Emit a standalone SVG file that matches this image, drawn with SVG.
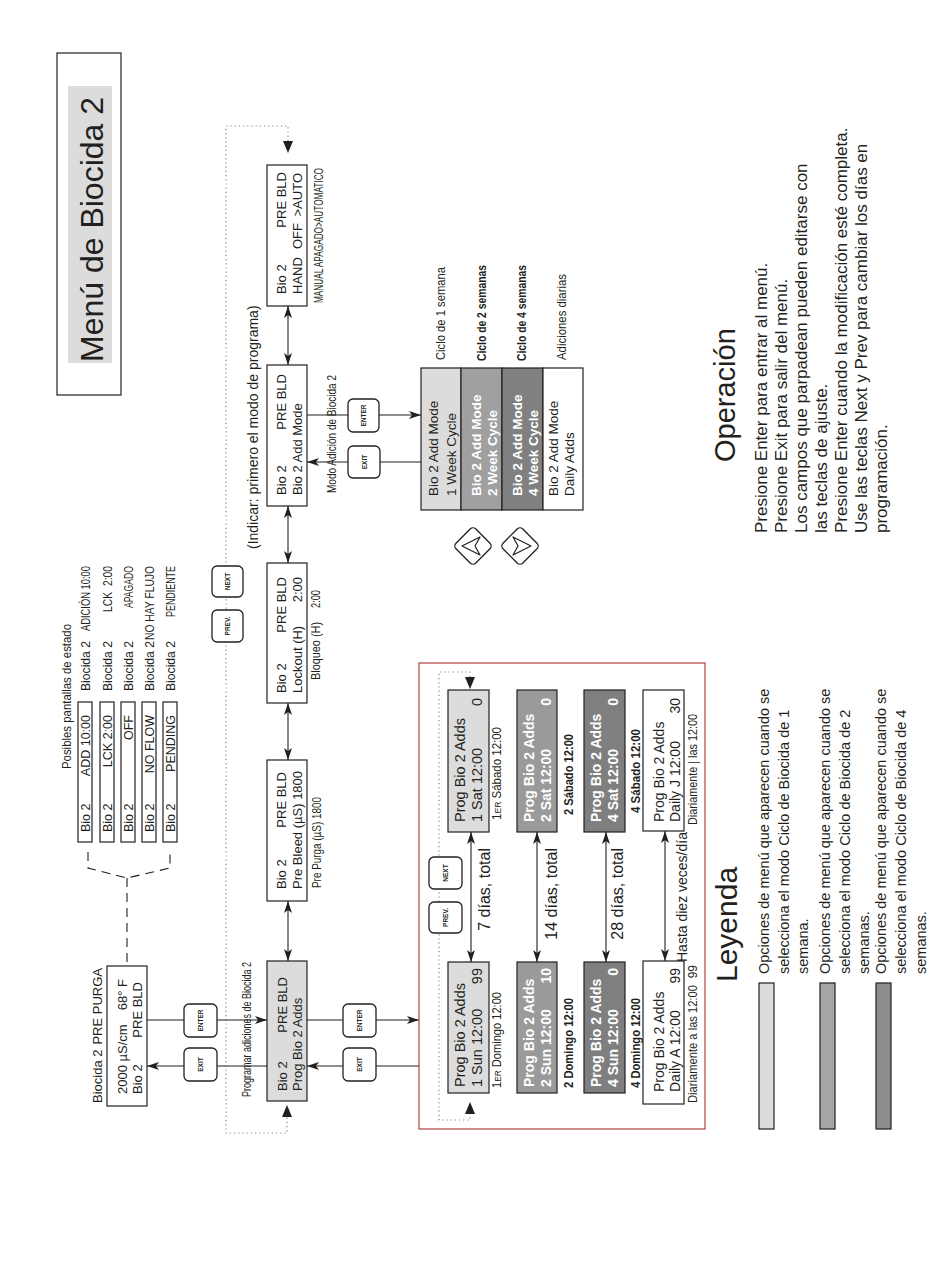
<svg xmlns="http://www.w3.org/2000/svg" width="950" height="1276" viewBox="0 0 950 1276">
<defs>
<marker id="ah" viewBox="0 0 12 8" refX="12" refY="4" markerWidth="12" markerHeight="8" markerUnits="userSpaceOnUse" orient="auto-start-reverse"><path d="M0,0 L12,4 L0,8 L3,4 z" fill="#231f20"/></marker>
</defs>
<style>
text{font-family:"Liberation Sans",Arial,Helvetica,sans-serif;fill:#231f20}
.box{fill:#fff;stroke:#231f20;stroke-width:1.2}
.ln{stroke:#231f20;stroke-width:1.1;fill:none}
.dash{stroke:#231f20;stroke-width:1.1;fill:none;stroke-dasharray:9 6}
.dot{stroke:#8a8a8a;stroke-width:1.2;fill:none;stroke-dasharray:1.2 3}
.btn{fill:#fff;stroke:#231f20;stroke-width:1.3}
.bt{font-size:6.5px;font-weight:bold;text-anchor:middle}
.e{text-anchor:end}
.b{font-weight:bold}
.w{fill:#fff}
.s12{font-size:12.5px}
.s13{font-size:13px}
.s14{font-size:14.5px}
.cap{font-size:12px}
.leg{font-size:14.5px}
.op{font-size:17px}
</style>

<g id="title">
<rect x="57" y="53" width="64" height="342" fill="none" stroke="#231f20" stroke-width="1.2"/>
<rect x="68" y="86" width="44" height="277" fill="#dcdcdc"/>
<text transform="translate(103,362) rotate(-90)" font-size="32">Menú de Biocida 2</text>
</g>

<g id="status-screens">
<text transform="translate(71,769) rotate(-90)" font-size="13" textLength="145" lengthAdjust="spacingAndGlyphs">Posibles pantallas de estado</text>
<rect class="box" x="78" y="702" width="14" height="140"/>
<rect class="box" x="100" y="702" width="14" height="140"/>
<rect class="box" x="121" y="702" width="14" height="140"/>
<rect class="box" x="142" y="702" width="14" height="140"/>
<rect class="box" x="163" y="702" width="14" height="140"/>
<text transform="translate(89.5,832) rotate(-90)" class="s12">Bio 2</text>
<text transform="translate(89.5,715) rotate(-90)" class="s12 e">ADD 10:00</text>
<text transform="translate(111.5,832) rotate(-90)" class="s12">Bio 2</text>
<text transform="translate(111.5,715) rotate(-90)" class="s12 e">LCK   2:00</text>
<text transform="translate(132.5,832) rotate(-90)" class="s12">Bio 2</text>
<text transform="translate(132.5,715) rotate(-90)" class="s12 e">OFF</text>
<text transform="translate(153.5,832) rotate(-90)" class="s12">Bio 2</text>
<text transform="translate(153.5,715) rotate(-90)" class="s12 e">NO FLOW</text>
<text transform="translate(174.5,832) rotate(-90)" class="s12">Bio 2</text>
<text transform="translate(174.5,715) rotate(-90)" class="s12 e">PENDING</text>
<text transform="translate(89.5,691) rotate(-90)" class="s12" textLength="50" lengthAdjust="spacingAndGlyphs">Biocida 2</text>
<text transform="translate(89.5,631) rotate(-90)" class="cap" textLength="65" lengthAdjust="spacingAndGlyphs">ADICIÓN 10:00</text>
<text transform="translate(111.5,691) rotate(-90)" class="s12" textLength="50" lengthAdjust="spacingAndGlyphs">Biocida 2</text>
<text transform="translate(111.5,612) rotate(-90)" class="cap" textLength="20" lengthAdjust="spacingAndGlyphs">LCK</text>
<text transform="translate(111.5,586) rotate(-90)" class="cap" textLength="20" lengthAdjust="spacingAndGlyphs">2:00</text>
<text transform="translate(132.5,691) rotate(-90)" class="s12" textLength="50" lengthAdjust="spacingAndGlyphs">Biocida 2</text>
<text transform="translate(132.5,608) rotate(-90)" class="cap" textLength="42" lengthAdjust="spacingAndGlyphs">APAGADO</text>
<text transform="translate(153.5,691) rotate(-90)" class="s12" textLength="50" lengthAdjust="spacingAndGlyphs">Biocida 2</text>
<text transform="translate(153.5,640) rotate(-90)" class="cap" textLength="74" lengthAdjust="spacingAndGlyphs">NO HAY FLUJO</text>
<text transform="translate(174.5,691) rotate(-90)" class="s12" textLength="50" lengthAdjust="spacingAndGlyphs">Biocida 2</text>
<text transform="translate(174.5,617) rotate(-90)" class="cap" textLength="51" lengthAdjust="spacingAndGlyphs">PENDIENTE</text>
</g>

<g id="display">
<rect class="box" x="107" y="966" width="40" height="140"/>
<text transform="translate(102,1103) rotate(-90)" class="s13">Biocida 2</text>
<text transform="translate(102,968) rotate(-90)" class="s13 e">PRE PURGA</text>
<text transform="translate(127,1094) rotate(-90)" class="s13">2000 µS/cm</text>
<text transform="translate(127,979) rotate(-90)" class="s13 e">68° F</text>
<text transform="translate(142,1094) rotate(-90)" class="s13">Bio 2</text>
<text transform="translate(142,982) rotate(-90)" class="s13 e">PRE BLD</text>
</g>

<g id="prog-main">
<rect x="267" y="961" width="40" height="140" fill="#dcdcdc" stroke="#231f20" stroke-width="1.2"/>
<text transform="translate(287,1091) rotate(-90)" class="s13">Bio 2</text>
<text transform="translate(287,977) rotate(-90)" class="s13 e">PRE BLD</text>
<text transform="translate(302,1091) rotate(-90)" class="s13">Prog Bio 2 Adds</text>
<text transform="translate(251,1097) rotate(-90)" class="cap" textLength="135" lengthAdjust="spacingAndGlyphs">Programar adiciones de Biocida 2</text>
</g>

<g id="prebleed">
<rect class="box" x="267" y="760" width="40" height="141"/>
<text transform="translate(286,889) rotate(-90)" class="s13">Bio 2</text>
<text transform="translate(286,772) rotate(-90)" class="s13 e">PRE BLD</text>
<text transform="translate(302,889) rotate(-90)" class="s13">Pre Bleed (µS) 1800</text>
<text transform="translate(321,888) rotate(-90)" class="cap" textLength="91" lengthAdjust="spacingAndGlyphs">Pre Purga (µS) 1800</text>
</g>

<g id="lockout">
<rect class="box" x="267" y="563" width="40" height="140"/>
<text transform="translate(286,693) rotate(-90)" class="s13">Bio 2</text>
<text transform="translate(286,577) rotate(-90)" class="s13 e">PRE BLD</text>
<text transform="translate(302,693) rotate(-90)" class="s13">Lockout (H)</text>
<text transform="translate(302,577) rotate(-90)" class="s13 e">2:00</text>
<text transform="translate(320,680) rotate(-90)" class="cap" textLength="58" lengthAdjust="spacingAndGlyphs">Bloqueo (H)</text>
<text transform="translate(320,608) rotate(-90)" class="cap" textLength="18" lengthAdjust="spacingAndGlyphs">2:00</text>
</g>

<g id="addmode">
<rect class="box" x="267" y="365" width="40" height="141"/>
<text transform="translate(286,495) rotate(-90)" class="s13">Bio 2</text>
<text transform="translate(286,374) rotate(-90)" class="s13 e">PRE BLD</text>
<text transform="translate(302,495) rotate(-90)" class="s13">Bio 2 Add Mode</text>
<text transform="translate(336,493) rotate(-90)" class="cap" textLength="118" lengthAdjust="spacingAndGlyphs">Modo Adición de Biocida 2</text>
</g>

<g id="hand">
<rect class="box" x="267" y="165" width="40" height="141"/>
<text transform="translate(286,294) rotate(-90)" class="s13">Bio 2</text>
<text transform="translate(286,172) rotate(-90)" class="s13 e">PRE BLD</text>
<text transform="translate(302,294) rotate(-90)" class="s13">HAND</text>
<text transform="translate(302,249) rotate(-90)" class="s13">OFF</text>
<text transform="translate(302,173) rotate(-90)" class="s13 e">&gt;AUTO</text>
<text transform="translate(323,303) rotate(-90)" class="cap" textLength="135" lengthAdjust="spacingAndGlyphs">MANUAL APAGADO&gt;AUTOMATICO</text>
</g>

<g id="hint">
<text transform="translate(258,549) rotate(-90)" font-size="14">(Indicar: primero el modo de programa)</text>
</g>

<g id="connectors">
<path class="dash" d="M88,852 L88,868 L127,878 L170,868 L170,852 M127,878 L127,966"/>
<path class="dot" d="M288,141 L288,126 L226,126 L226,1133 L287,1133 L287,1117"/>
<path d="M283,141 L293,141 L288,153 z" fill="#231f20"/>
<path d="M282,1117 L292,1117 L287,1105 z" fill="#231f20"/>
<line class="ln" x1="288" y1="306" x2="288" y2="365" marker-start="url(#ah)" marker-end="url(#ah)"/>
<line class="ln" x1="288" y1="506" x2="288" y2="563" marker-start="url(#ah)" marker-end="url(#ah)"/>
<line class="ln" x1="288" y1="703" x2="288" y2="760" marker-start="url(#ah)" marker-end="url(#ah)"/>
<line class="ln" x1="288" y1="901" x2="288" y2="961" marker-start="url(#ah)" marker-end="url(#ah)"/>
<path class="ln" d="M147,1020 L184,1020"/>
<line class="ln" x1="217" y1="1020" x2="267" y2="1020" marker-end="url(#ah)"/>
<path class="ln" d="M267,1066 L217,1066"/>
<line class="ln" x1="184" y1="1066" x2="147" y2="1066" marker-end="url(#ah)"/>
<path class="ln" d="M307,1020 L343,1020"/>
<line class="ln" x1="376" y1="1020" x2="419" y2="1020" marker-end="url(#ah)"/>
<path class="ln" d="M419,1066 L376,1066"/>
<line class="ln" x1="343" y1="1066" x2="307" y2="1066" marker-end="url(#ah)"/>
<path class="ln" d="M307,415 L348,415"/>
<line class="ln" x1="379" y1="415" x2="421" y2="415" marker-end="url(#ah)"/>
<path class="ln" d="M421,462 L380,462"/>
<line class="ln" x1="348" y1="462" x2="307" y2="462" marker-end="url(#ah)"/>
<path class="dot" d="M470,677 L470,672 L439,672 L439,1120 L470,1120 L470,1114"/>
<path d="M465,677 L475,677 L470,689 z" fill="#231f20"/>
<path d="M465,1114 L475,1114 L470,1102 z" fill="#231f20"/>
<line class="ln" x1="471" y1="832" x2="471" y2="962" marker-start="url(#ah)" marker-end="url(#ah)"/>
<line class="ln" x1="537" y1="832" x2="537" y2="962" marker-start="url(#ah)" marker-end="url(#ah)"/>
<line class="ln" x1="606" y1="832" x2="606" y2="962" marker-start="url(#ah)" marker-end="url(#ah)"/>
<line class="ln" x1="665" y1="831" x2="665" y2="961" marker-start="url(#ah)" marker-end="url(#ah)"/>
</g>

<g id="btn-next-1"><rect class="btn" x="212" y="566" width="31" height="31" rx="5"/><text class="bt" transform="translate(230,581.5) rotate(-90)">NEXT</text></g>
<g id="btn-prev-1"><rect class="btn" x="212" y="610" width="31" height="32" rx="5"/><text class="bt" transform="translate(230,626) rotate(-90)">PREV.</text></g>
<g id="btn-enter-1"><rect class="btn" x="184" y="1004" width="33" height="33" rx="5"/><text class="bt" transform="translate(203,1020.5) rotate(-90)">ENTER</text></g>
<g id="btn-exit-1"><rect class="btn" x="184" y="1048" width="33" height="33" rx="5"/><text class="bt" transform="translate(203,1064.5) rotate(-90)">EXIT</text></g>
<g id="btn-enter-2"><rect class="btn" x="343" y="1004" width="33" height="33" rx="5"/><text class="bt" transform="translate(362,1020.5) rotate(-90)">ENTER</text></g>
<g id="btn-exit-2"><rect class="btn" x="343" y="1048" width="33" height="33" rx="5"/><text class="bt" transform="translate(362,1064.5) rotate(-90)">EXIT</text></g>
<g id="btn-enter-3"><rect class="btn" x="348" y="399" width="31" height="33" rx="5"/><text class="bt" transform="translate(366,415.5) rotate(-90)">ENTER</text></g>
<g id="btn-exit-3"><rect class="btn" x="348" y="446" width="32" height="32" rx="5"/><text class="bt" transform="translate(366.5,462) rotate(-90)">EXIT</text></g>

<g id="mode-stack">
<rect x="421" y="368" width="40" height="142" fill="#dcdcdc" stroke="#231f20" stroke-width="1.2"/>
<rect x="461" y="368" width="41" height="142" fill="#a0a0a0" stroke="#231f20" stroke-width="1.2"/>
<rect x="502" y="368" width="41" height="142" fill="#808080" stroke="#231f20" stroke-width="1.2"/>
<rect x="543" y="368" width="40" height="142" fill="#fff" stroke="#231f20" stroke-width="1.2"/>
<text transform="translate(438,496) rotate(-90)" font-size="13.5">Bio 2 Add Mode</text>
<text transform="translate(456,496) rotate(-90)" font-size="13.5">1 Week Cycle</text>
<text transform="translate(481,496) rotate(-90)" font-size="13.5" class="b w">Bio 2 Add Mode</text>
<text transform="translate(497,496) rotate(-90)" font-size="13.5" class="b w">2 Week Cycle</text>
<text transform="translate(522,496) rotate(-90)" font-size="13.5" class="b w">Bio 2 Add Mode</text>
<text transform="translate(538,496) rotate(-90)" font-size="13.5" class="b w">4 Week Cycle</text>
<text transform="translate(558,496) rotate(-90)" font-size="13.5">Bio 2 Add Mode</text>
<text transform="translate(574,496) rotate(-90)" font-size="13.5">Daily Adds</text>
<text transform="translate(445,360) rotate(-90)" font-size="13" textLength="93" lengthAdjust="spacingAndGlyphs">Ciclo de 1 semana</text>
<text transform="translate(486,361) rotate(-90)" font-size="13" class="b" textLength="96" lengthAdjust="spacingAndGlyphs">Ciclo de 2 semanas</text>
<text transform="translate(526,361) rotate(-90)" font-size="13" class="b" textLength="96" lengthAdjust="spacingAndGlyphs">Ciclo de 4 semanas</text>
<text transform="translate(566,360) rotate(-90)" font-size="13" textLength="86" lengthAdjust="spacingAndGlyphs">Adiciones diarias</text>
</g>

<g id="nav-up">
<rect x="459" y="532" width="28" height="28" rx="4" fill="#fff" stroke="#231f20" stroke-width="1.3" transform="rotate(45 473 546)"/>
<path d="M462,546 L480,537 L475,546 L480,555 z" fill="none" stroke="#231f20" stroke-width="1.2" stroke-linejoin="round"/>
</g>
<g id="nav-down">
<rect x="506" y="532" width="28" height="28" rx="4" fill="#fff" stroke="#231f20" stroke-width="1.3" transform="rotate(45 520 546)"/>
<path d="M531,546 L513,537 L518,546 L513,555 z" fill="none" stroke="#231f20" stroke-width="1.2" stroke-linejoin="round"/>
</g>

<g id="prog-adds">
<rect x="419" y="663" width="286" height="466" fill="none" stroke="#b0413e" stroke-width="1.2"/>
<g id="btn-next-2"><rect class="btn" x="429" y="857" width="33" height="32" rx="5"/><text class="bt" transform="translate(448,873) rotate(-90)">NEXT</text></g>
<g id="btn-prev-2"><rect class="btn" x="429" y="902" width="33" height="31" rx="5"/><text class="bt" transform="translate(448,917.5) rotate(-90)">PREV.</text></g>

<g id="w1-sat">
<rect x="448" y="690" width="41" height="142" fill="#dcdcdc" stroke="#231f20" stroke-width="1.2"/>
<text transform="translate(465,822) rotate(-90)" class="s14">Prog Bio 2 Adds</text>
<text transform="translate(482,822) rotate(-90)" class="s14">1 Sat 12:00</text>
<text transform="translate(482,698) rotate(-90)" class="s14 e">0</text>
<text transform="translate(501,820) rotate(-90)" class="cap" textLength="93" lengthAdjust="spacingAndGlyphs">1<tspan font-size="9">ER</tspan> Sábado 12:00</text>
</g>
<g id="w1-sun">
<rect x="448" y="962" width="41" height="131" fill="#dcdcdc" stroke="#231f20" stroke-width="1.2"/>
<text transform="translate(465,1087) rotate(-90)" class="s14">Prog Bio 2 Adds</text>
<text transform="translate(482,1087) rotate(-90)" class="s14">1 Sun 12:00</text>
<text transform="translate(482,968) rotate(-90)" class="s14 e">99</text>
<text transform="translate(501,1088) rotate(-90)" class="cap" textLength="96" lengthAdjust="spacingAndGlyphs">1<tspan font-size="9">ER</tspan> Domingo 12:00</text>
</g>
<text transform="translate(490,848) rotate(-90)" font-size="16" class="e">7 días, total</text>

<g id="w2-sat">
<rect x="517" y="690" width="40" height="142" fill="#9a9a9a" stroke="#231f20" stroke-width="1.2"/>
<text transform="translate(534,822) rotate(-90)" font-size="14" class="b w">Prog Bio 2 Adds</text>
<text transform="translate(551,822) rotate(-90)" font-size="14" class="b w">2 Sat 12:00</text>
<text transform="translate(551,698) rotate(-90)" font-size="14" class="b w e">0</text>
<text transform="translate(573,815) rotate(-90)" class="cap b" textLength="81" lengthAdjust="spacingAndGlyphs">2 Sábado 12:00</text>
</g>
<g id="w2-sun">
<rect x="517" y="962" width="40" height="131" fill="#9a9a9a" stroke="#231f20" stroke-width="1.2"/>
<text transform="translate(534,1087) rotate(-90)" font-size="14" class="b w">Prog Bio 2 Adds</text>
<text transform="translate(551,1087) rotate(-90)" font-size="14" class="b w">2 Sun 12:00</text>
<text transform="translate(551,968) rotate(-90)" font-size="14" class="b w e">10</text>
<text transform="translate(573,1088) rotate(-90)" class="cap b" textLength="90" lengthAdjust="spacingAndGlyphs">2 Domingo 12:00</text>
</g>
<text transform="translate(557,848) rotate(-90)" font-size="16" class="e">14 días, total</text>

<g id="w4-sat">
<rect x="584" y="690" width="41" height="142" fill="#7f7f7f" stroke="#231f20" stroke-width="1.2"/>
<text transform="translate(601,822) rotate(-90)" font-size="14" class="b w">Prog Bio 2 Adds</text>
<text transform="translate(618,822) rotate(-90)" font-size="14" class="b w">4 Sat 12:00</text>
<text transform="translate(618,698) rotate(-90)" font-size="14" class="b w e">0</text>
<text transform="translate(640,813) rotate(-90)" class="cap b" textLength="84" lengthAdjust="spacingAndGlyphs">4 Sábado 12:00</text>
</g>
<g id="w4-sun">
<rect x="584" y="962" width="41" height="131" fill="#7f7f7f" stroke="#231f20" stroke-width="1.2"/>
<text transform="translate(601,1087) rotate(-90)" font-size="14" class="b w">Prog Bio 2 Adds</text>
<text transform="translate(618,1087) rotate(-90)" font-size="14" class="b w">4 Sun 12:00</text>
<text transform="translate(618,968) rotate(-90)" font-size="14" class="b w e">0</text>
<text transform="translate(640,1088) rotate(-90)" class="cap b" textLength="90" lengthAdjust="spacingAndGlyphs">4 Domingo 12:00</text>
</g>
<text transform="translate(623,848) rotate(-90)" font-size="16" class="e">28 días, total</text>

<g id="daily-j">
<rect class="box" x="643" y="690" width="41" height="141"/>
<text transform="translate(664,822) rotate(-90)" font-size="14">Prog Bio 2 Adds</text>
<text transform="translate(680,822) rotate(-90)" font-size="14">Daily J 12:00</text>
<text transform="translate(680,698) rotate(-90)" font-size="14" class="e">30</text>
<text transform="translate(697,825) rotate(-90)" class="cap" textLength="111" lengthAdjust="spacingAndGlyphs">Diariamente | las 12:00</text>
</g>
<g id="daily-a">
<rect class="box" x="643" y="961" width="41" height="143"/>
<text transform="translate(664,1092) rotate(-90)" font-size="14">Prog Bio 2 Adds</text>
<text transform="translate(680,1092) rotate(-90)" font-size="14">Daily A 12:00</text>
<text transform="translate(680,968) rotate(-90)" font-size="14" class="e">99</text>
<text transform="translate(697,1103) rotate(-90)" class="cap" textLength="118" lengthAdjust="spacingAndGlyphs">Diariamente a las 12:00</text>
<text transform="translate(697,965) rotate(-90)" class="cap e">99</text>
</g>
<text transform="translate(687,962) rotate(-90)" font-size="14">Hasta diez veces/día</text>
</g>

<g id="legend">
<text transform="translate(737,982) rotate(-90)" font-size="30">Leyenda</text>
<rect x="759" y="983" width="15" height="146" fill="#dcdcdc" stroke="#231f20" stroke-width="1.2"/>
<rect x="820" y="983" width="15" height="146" fill="#a6a6a6" stroke="#231f20" stroke-width="1.2"/>
<rect x="876" y="983" width="15" height="146" fill="#8c8c8c" stroke="#231f20" stroke-width="1.2"/>
<text transform="translate(769,974) rotate(-90)" class="leg">Opciones de menú que aparecen cuando se</text>
<text transform="translate(789,974) rotate(-90)" class="leg">selecciona el modo Ciclo de Biocida de 1</text>
<text transform="translate(808,974) rotate(-90)" class="leg">semana.</text>
<text transform="translate(830,974) rotate(-90)" class="leg">Opciones de menú que aparecen cuando se</text>
<text transform="translate(850,974) rotate(-90)" class="leg">selecciona el modo Ciclo de Biocida de 2</text>
<text transform="translate(869,974) rotate(-90)" class="leg">semanas.</text>
<text transform="translate(886,974) rotate(-90)" class="leg">Opciones de menú que aparecen cuando se</text>
<text transform="translate(906,974) rotate(-90)" class="leg">selecciona el modo Ciclo de Biocida de 4</text>
<text transform="translate(926,974) rotate(-90)" class="leg">semanas.</text>
</g>

<g id="operacion">
<text transform="translate(735,462) rotate(-90)" font-size="29">Operación</text>
<text transform="translate(767,533) rotate(-90)" class="op">Presione Enter para entrar al menú.</text>
<text transform="translate(787,533) rotate(-90)" class="op">Presione Exit para salir del menú.</text>
<text transform="translate(807,533) rotate(-90)" class="op">Los campos que parpadean pueden editarse con</text>
<text transform="translate(827,533) rotate(-90)" class="op">las teclas de ajuste.</text>
<text transform="translate(847,533) rotate(-90)" class="op">Presione Enter cuando la modificación esté completa.</text>
<text transform="translate(867,533) rotate(-90)" class="op">Use las teclas Next y Prev para cambiar los días en</text>
<text transform="translate(887,533) rotate(-90)" class="op">programación.</text>
</g>
</svg>
